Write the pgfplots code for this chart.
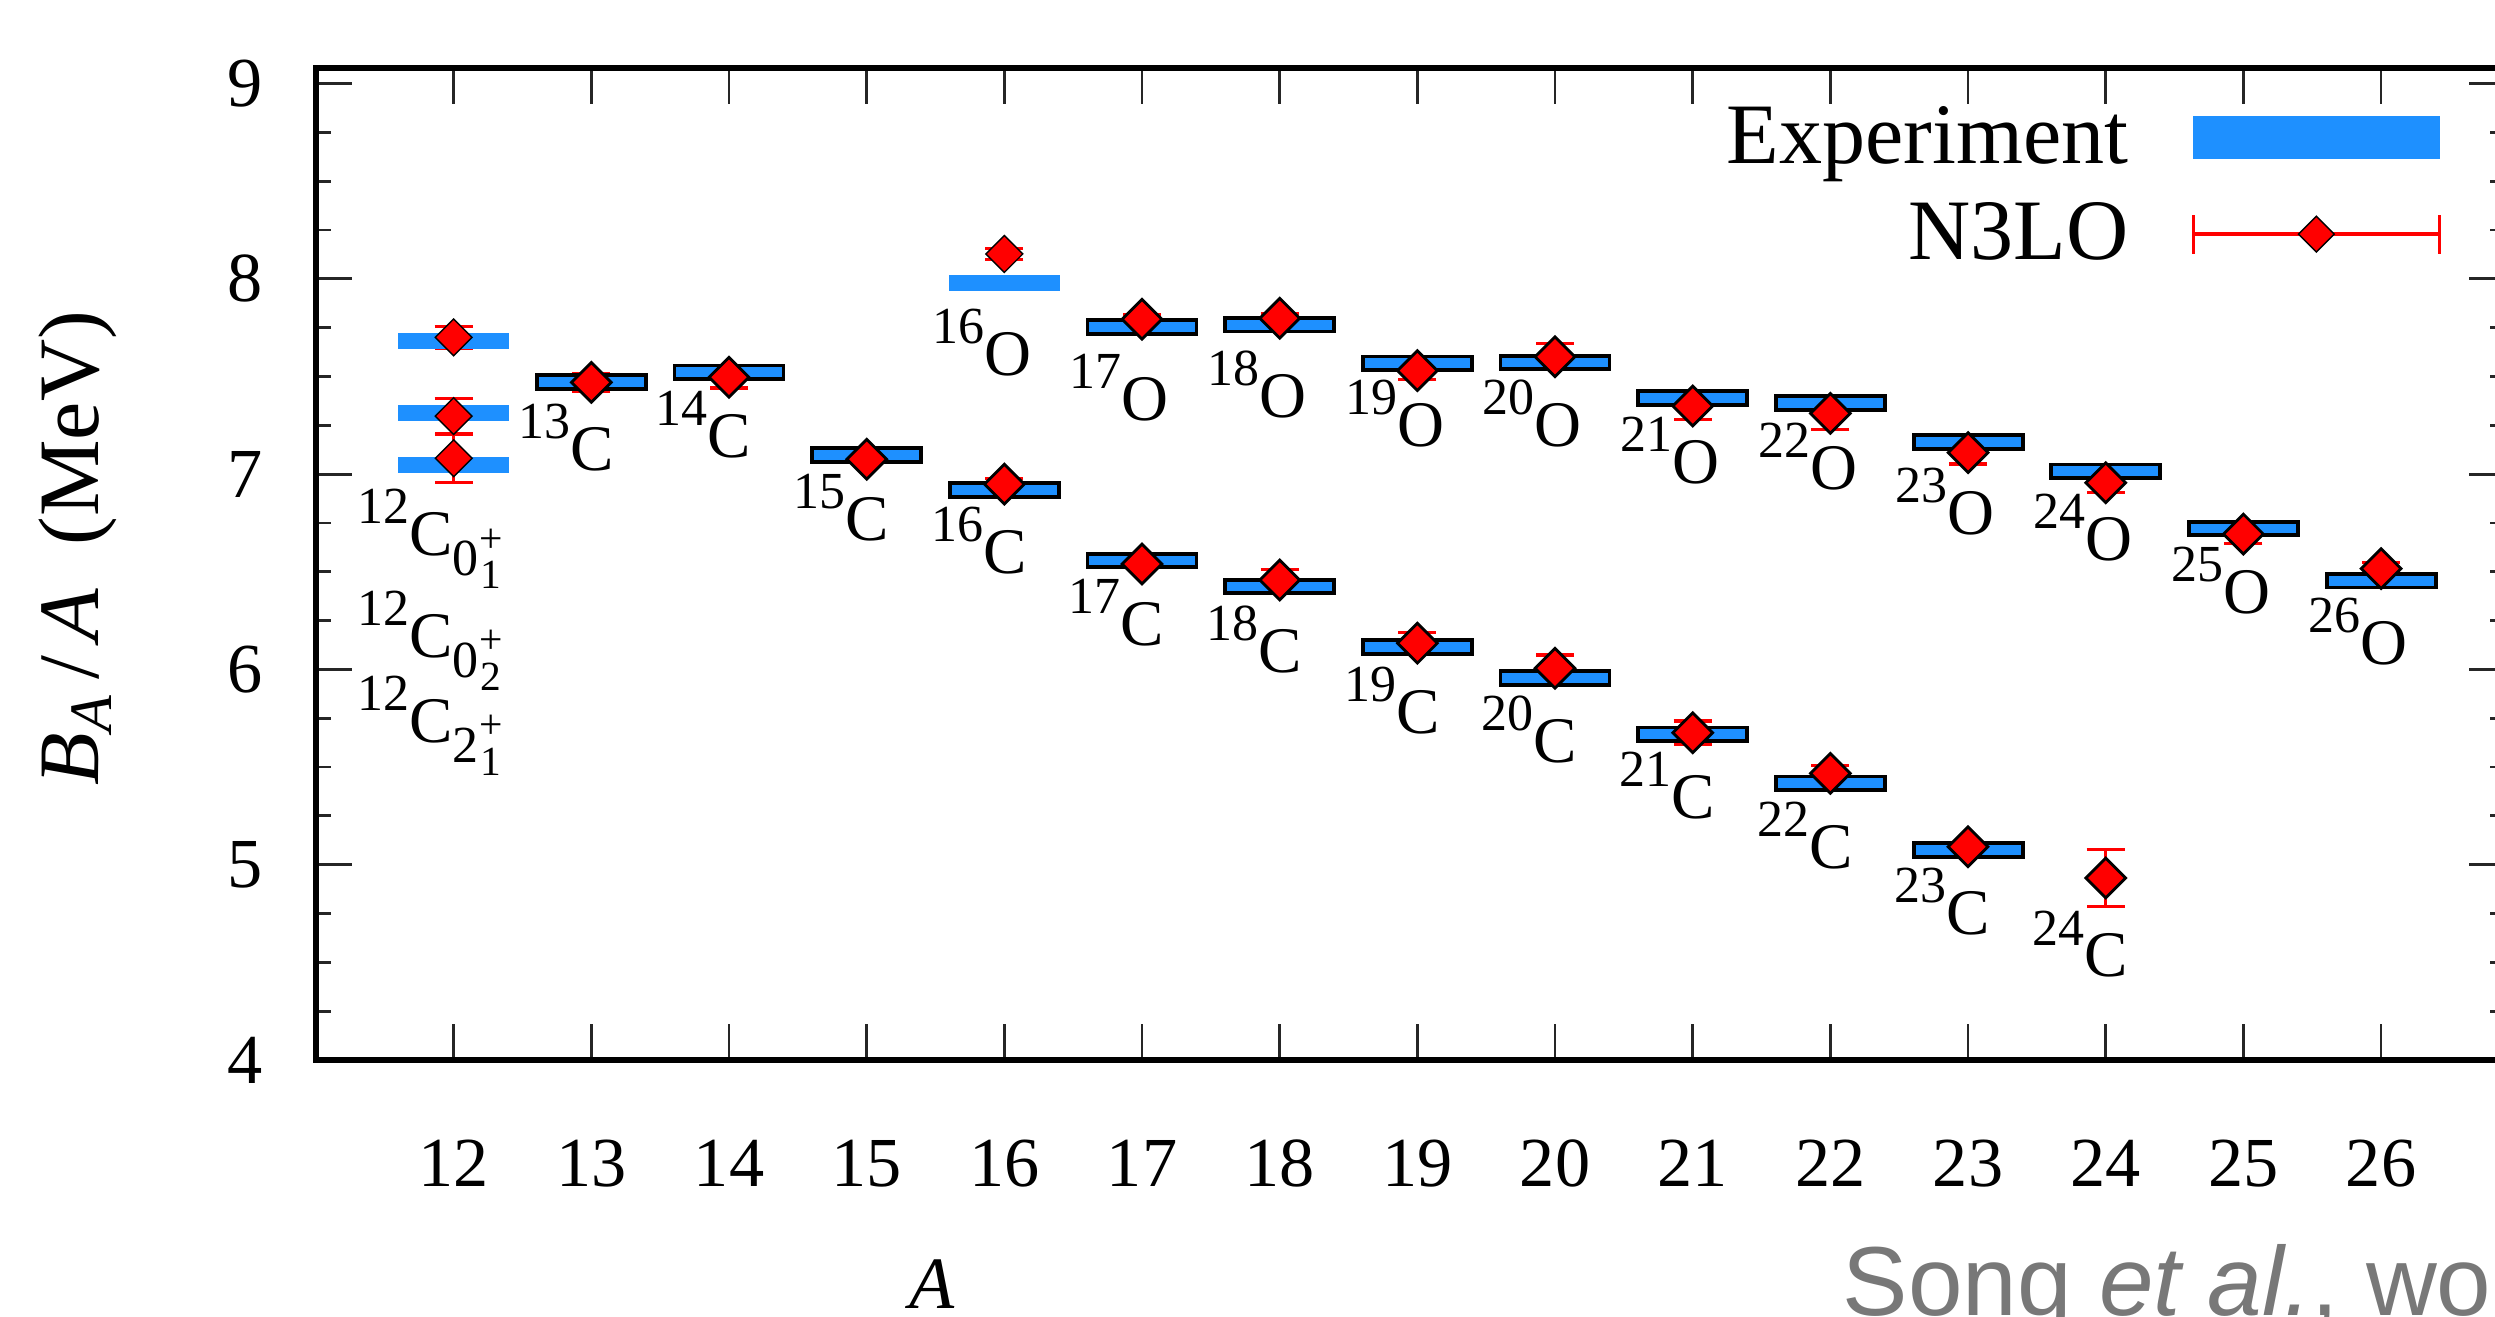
\documentclass[border=0pt]{standalone}
\usepackage{fontspec}
\setmainfont{Liberation Serif}
\newfontfamily\songfont{Liberation Sans}
\usepackage{pgfplots}
\usepackage{pgfplotstable}
\pgfplotsset{compat=1.18}

\definecolor{expblue}{HTML}{1E90FF}
\definecolor{notegray}{HTML}{787878}

% experimental bars: fixed-size boxes centred on the value
\pgfdeclareplotmark{expbar}{%
  \pgfpathrectangle{\pgfpoint{-0.545cm}{-0.068cm}}{\pgfpoint{1.09cm}{0.136cm}}%
  \pgfusepathqfillstroke}
\pgfdeclareplotmark{expflat}{%
  \pgfpathrectangle{\pgfpoint{-0.555cm}{-0.08cm}}{\pgfpoint{1.11cm}{0.16cm}}%
  \pgfusepathqfill}

\newcommand{\isofont}{\fontsize{18.5}{20}\selectfont}
\newcommand{\iso}[2]{\raisebox{9.1pt}{\fontsize{14.8}{16}\selectfont #1}#2}
\newcommand{\lev}[3]{\raisebox{-5.7pt}{\fontsize{14.8}{16}\selectfont #1}%
  \rlap{\raisebox{1pt}{\fontsize{11.8}{13}\selectfont\makebox[6.7pt]{#2}}}%
  \raisebox{-9.4pt}{\fontsize{11.8}{13}\selectfont\makebox[6.7pt]{#3}}}
% isotope label: A, element, value, drop below value, right shift
\newcommand{\isolab}[5]{\node[anchor=base east, inner sep=0pt, font=\isofont,
  xshift=#5, yshift=-#4] at (axis cs:#1,#3) {\iso{#1}{#2}};}

% experiment (bars with black edge)
\pgfplotstableread{
A   E
13  7.472
14  7.521
15  7.098
16  6.919
17  6.557
18  6.425
19  6.115
20  5.957
21  5.668
22  5.417
23  5.075
17  7.752
18  7.765
19  7.567
20  7.572
21  7.390
22  7.364
23  7.164
24  7.014
25  6.722
26  6.454
}\expdata
% experiment (12C states and 16O, no edge)
\pgfplotstableread{
A   E
12  7.683
12  7.314
12  7.045
16  7.977
}\expflatdata
% N3LO
\pgfplotstableread{
A   T      dT
13  7.470  0.045
14  7.496  0.055
15  7.076  0.010
16  6.949  0.030
17  6.540  0.010
18  6.458  0.055
19  6.134  0.057
20  6.006  0.068
21  5.676  0.060
22  5.468  0.040
23  5.092  0.010
24  4.932  0.145
17  7.793  0.025
18  7.798  0.025
19  7.530  0.045
20  7.601  0.067
21  7.349  0.070
22  7.311  0.083
23  7.110  0.058
24  6.956  0.050
25  6.693  0.050
26  6.516  0.030
}\thdata
\pgfplotstableread{
A   T      dT
12  7.700  0.055
12  7.297  0.092
12  7.081  0.123
16  8.127  0.030
}\thflatdata

\begin{document}
\begin{tikzpicture}
\begin{axis}[
  scale only axis,
  width=21.8895cm, height=9.9212cm,
  xmin=11, xmax=26.9, ymin=4, ymax=9.08,
  clip=false,
  axis line style={line width=1.5pt},
  tick align=inside,
  xtick={12,...,26}, ytick={4,...,9},
  minor y tick num=3,
  major tick length=0.36cm, minor tick length=0.15cm,
  tick style={line width=0.8pt, black!85},
  /pgf/number format/assume math mode=true,
  ticklabel style={font=\fontsize{20}{24}\selectfont, inner sep=0pt},
  xticklabel style={yshift=-0.79cm},
  yticklabel style={xshift=-0.53cm},
  xlabel={\textit{A}},
  ylabel={\textit{B}\textsubscript{\textit{A}}\,/\,\textit{A}\ \ (MeV)},
  label style={font=\fontsize{24.5}{29}\selectfont},
  xlabel style={at={(axis description cs:0.2814,-0.226)}, anchor=center,
    inner sep=0pt, font=\fontsize{21}{25}\selectfont},
  ylabel style={at={(axis description cs:-0.1087,0.516)}, anchor=center},
  legend style={at={(axis description cs:0.9708,0.968)}, anchor=north east,
    draw=none, fill=none, inner sep=0pt, outer sep=0pt,
    row sep=0.2cm, column sep=0.56cm,
    font=\fontsize{24.5}{29}\selectfont},
  legend cell align=right,
  legend plot pos=right,
]
\addplot[only marks, mark=expbar, mark options={fill=expblue, draw=black, line width=1.1pt}, forget plot]
  table[x=A, y=E] {\expdata};
\addplot[only marks, mark=expflat, mark options={fill=expblue, draw=none}, forget plot]
  table[x=A, y=E] {\expflatdata};
\addplot[only marks, mark=square*, mark size=4pt,
  mark options={rotate=45, fill=red, draw=black, line width=0.8pt}, forget plot]
  table[x=A, y=T] {\thdata};
\addplot[only marks, mark=square*, mark size=3.7pt,
  mark options={rotate=45, fill=red, draw=none}, forget plot]
  table[x=A, y=T] {\thflatdata};
% error bars drawn on top of the diamonds
\addplot[only marks, mark=*, mark size=0pt, mark options={opacity=0}, forget plot,
  error bars/.cd, y dir=both, y explicit,
  error bar style={red, line width=0.95pt},
  error mark options={rotate=90, red, line width=0.9pt, mark size=0.19cm, opacity=1}]
  table[x=A, y=T, y error=dT] {\thdata};
\addplot[only marks, mark=*, mark size=0pt, mark options={opacity=0}, forget plot,
  error bars/.cd, y dir=both, y explicit,
  error bar style={red, line width=0.95pt},
  error mark options={rotate=90, red, line width=0.9pt, mark size=0.19cm, opacity=1}]
  table[x=A, y=T, y error=dT] {\thflatdata};

\addlegendimage{legend image code/.code={
  \fill[expblue] (0cm,-0.21cm) rectangle (2.46cm,0.21cm);}}
\addlegendentry{Experiment}
\addlegendimage{legend image code/.code={
  \draw[red, line width=0.95pt] (0cm,0cm) -- (2.46cm,0cm);
  \draw[red, line width=0.95pt] (0cm,-0.195cm) -- (0cm,0.195cm);
  \draw[red, line width=0.95pt] (2.46cm,-0.195cm) -- (2.46cm,0.195cm);
  \draw plot[mark=square*, mark size=3.6pt, mark options={rotate=45, fill=red, draw=none}]
    coordinates {(1.23cm,0cm)};}}
\addlegendentry{N3LO}

% carbon labels
\isolab{13}{C}{7.472}{0.887cm}{0.23cm}
\isolab{14}{C}{7.521}{0.85cm}{0.23cm}
\isolab{15}{C}{7.098}{0.857cm}{0.23cm}
\isolab{16}{C}{6.919}{0.84cm}{0.23cm}
\isolab{17}{C}{6.557}{0.85cm}{0.23cm}
\isolab{18}{C}{6.425}{0.86cm}{0.23cm}
\isolab{19}{C}{6.115}{0.87cm}{0.23cm}
\isolab{20}{C}{5.957}{0.846cm}{0.23cm}
\isolab{21}{C}{5.668}{0.847cm}{0.23cm}
\isolab{22}{C}{5.417}{0.857cm}{0.23cm}
\isolab{23}{C}{5.075}{0.84cm}{0.23cm}
\isolab{24}{C}{4.932}{0.99cm}{0.23cm}
% oxygen labels
\isolab{16}{O}{7.977}{0.919cm}{0.275cm}
\isolab{17}{O}{7.752}{0.929cm}{0.275cm}
\isolab{18}{O}{7.765}{0.932cm}{0.275cm}
\isolab{19}{O}{7.567}{0.828cm}{0.275cm}
\isolab{20}{O}{7.572}{0.845cm}{0.275cm}
\isolab{21}{O}{7.390}{0.855cm}{0.275cm}
\isolab{22}{O}{7.364}{0.862cm}{0.275cm}
\isolab{23}{O}{7.164}{0.925cm}{0.275cm}
\isolab{24}{O}{7.014}{0.889cm}{0.275cm}
\isolab{25}{O}{6.722}{0.85cm}{0.275cm}
\isolab{26}{O}{6.454}{0.835cm}{0.275cm}
% 12C states
\node[anchor=base west, inner sep=0pt, font=\isofont] at (axis cs:11.297,6.582) {\iso{12}{C}\lev{0}{+}{1}};
\node[anchor=base west, inner sep=0pt, font=\isofont] at (axis cs:11.297,6.062) {\iso{12}{C}\lev{0}{+}{2}};
\node[anchor=base west, inner sep=0pt, font=\isofont] at (axis cs:11.297,5.627) {\iso{12}{C}\lev{2}{+}{1}};

% note cut by the lower edge, as in the slide
\node[anchor=base west, inner sep=0pt, text=notegray, font=\songfont\fontsize{27.9}{32}\selectfont]
  at (axis cs:22.085,2.69) {Song \textit{et al.}, wo};

\coordinate (bbsw) at (axis cs:8.7046,2.6841);
\coordinate (bbne) at (axis cs:26.8277,9.4275);
\end{axis}
\pgfresetboundingbox
\path[use as bounding box] (bbsw) rectangle (bbne);
\end{tikzpicture}
\end{document}
